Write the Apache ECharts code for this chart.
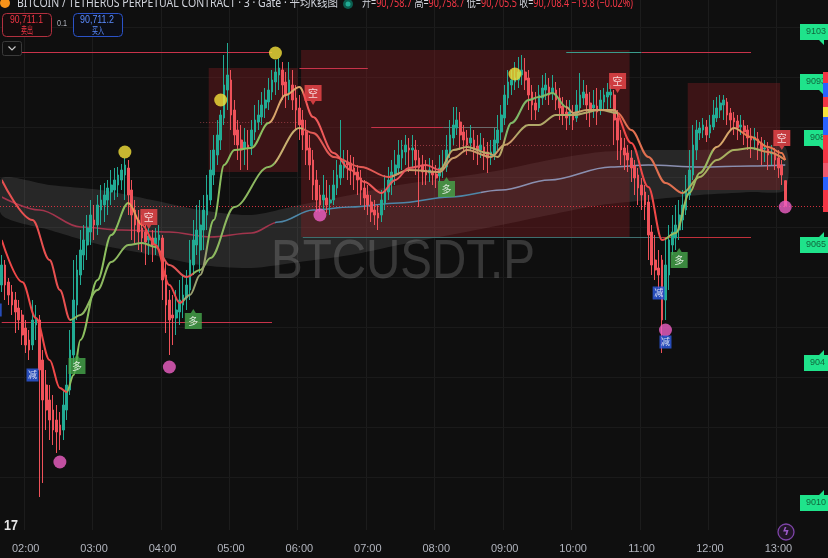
<!DOCTYPE html>
<html>
<head>
<meta charset="utf-8">
<title>BTCUSDT.P</title>
<script src="https://cdn.jsdelivr.net/npm/echarts@6.0.0/dist/echarts.min.js"></script>
<style>
html,body{margin:0;padding:0;background:#0f0f0f;overflow:hidden;}
#chart{width:828px;height:558px;}
</style>
</head>
<body>
<div id="chart"></div>
<script>
// ================= DATA =================
const hourTicks = ['02:00','03:00','04:00','05:00','06:00','07:00','08:00','09:00','10:00','11:00','12:00','13:00'];

const opens = [
90550,90590,90556,90536,90520,90504,90490,90464,90440,90430,
90470,90480,90400,90350,90320,90300,90280,90270,90260,90300,
90340,90410,90510,90570,90610,90630,90656,90680,90670,90700,
90710,90720,90736,90740,90750,90760,90770,90784,90740,90700,
90680,90664,90656,90640,90644,90632,90640,90644,90570,90520,
90490,90484,90496,90510,90524,90540,90590,90630,90620,90660,
90690,90720,90770,90810,90840,90884,90940,90960,90900,90860,
90840,90824,90830,90828,90856,90876,90886,90904,90916,90936,
90956,90970,90980,90956,90936,90950,90924,90904,90880,90856,
90824,90800,90760,90730,90720,90724,90714,90720,90744,90764,
90784,90796,90794,90784,90776,90764,90744,90730,90716,90700,
90694,90690,90714,90736,90754,90770,90784,90804,90816,90824,
90820,90820,90804,90790,90780,90774,90776,90772,90768,90780,
90786,90816,90844,90864,90876,90856,90844,90834,90840,90828,
90820,90826,90816,90806,90810,90834,90856,90884,90924,90950,
90956,90960,90970,90976,90964,90936,90914,90904,90924,90940,
90946,90934,90940,90924,90908,90896,90888,90892,90884,90904,
90924,90932,90914,90904,90908,90900,90916,90926,90930,90930,
90884,90844,90824,90814,90804,90788,90770,90750,90736,90716,
90656,90600,90584,90600,90520,90570,90630,90644,90660,90680,
90700,90730,90770,90820,90854,90860,90866,90854,90866,90884,
90900,90910,90916,90894,90884,90878,90866,90868,90860,90848,
90840,90842,90834,90822,90822,90812,90814,90804,90790,90758.7];

const closes = [
90590,90550,90530,90510,90496,90480,90450,90430,90420,90480,
90484,90380,90320,90300,90280,90260,90256,90250,90310,90350,
90420,90520,90580,90620,90640,90664,90690,90670,90710,90720,
90730,90744,90750,90760,90770,90780,90790,90730,90690,90670,
90656,90644,90636,90648,90630,90644,90650,90560,90510,90480,
90484,90500,90520,90530,90550,90600,90640,90660,90670,90700,
90730,90780,90820,90850,90890,90950,90970,90890,90850,90830,
90820,90836,90824,90860,90880,90890,90910,90920,90940,90960,
90976,90984,90950,90930,90960,90920,90900,90870,90850,90820,
90790,90750,90720,90710,90730,90710,90720,90750,90770,90790,
90800,90790,90780,90770,90760,90740,90724,90710,90696,90690,
90684,90720,90740,90760,90776,90790,90810,90820,90830,90820,
90824,90800,90784,90776,90770,90780,90770,90764,90784,90790,
90820,90850,90870,90880,90850,90840,90830,90844,90824,90820,
90830,90810,90804,90816,90840,90860,90890,90930,90956,90960,
90964,90976,90980,90960,90930,90910,90900,90930,90944,90950,
90930,90944,90920,90904,90890,90884,90896,90880,90910,90930,
90936,90910,90900,90910,90896,90920,90930,90936,90936,90880,
90840,90820,90810,90800,90784,90764,90744,90730,90710,90650,
90590,90580,90570,90480,90590,90640,90656,90670,90690,90710,
90740,90780,90830,90860,90864,90870,90850,90870,90890,90904,
90914,90920,90890,90880,90876,90864,90870,90856,90844,90840,
90846,90830,90820,90824,90810,90816,90800,90784,90770,90708.4];

const lows = [
90536,90520,90510,90490,90454,90460,90430,90414,90400,90420,
90440,90126,90154,90260,90240,90230,90214,90220,90240,90280,
90330,90390,90480,90550,90580,90600,90630,90640,90650,90670,
90676,90690,90710,90720,90726,90740,90720,90690,90640,90630,
90620,90616,90590,90610,90596,90610,90620,90520,90454,90410,
90430,90450,90470,90484,90500,90520,90570,90610,90574,90620,
90660,90710,90750,90790,90820,90870,90900,90860,90830,90800,
90780,90790,90780,90810,90840,90860,90870,90884,90900,90920,
90930,90940,90920,90904,90920,90900,90860,90840,90820,90790,
90760,90720,90696,90696,90700,90694,90690,90710,90730,90750,
90764,90760,90750,90740,90730,90710,90700,90690,90676,90670,
90660,90676,90700,90720,90730,90750,90770,90780,90790,90776,
90784,90770,90706,90750,90750,90756,90750,90744,90756,90764,
90776,90804,90830,90850,90820,90816,90810,90820,90800,90790,
90804,90780,90774,90790,90800,90820,90840,90870,90910,90930,
90940,90944,90950,90940,90900,90880,90880,90896,90910,90920,
90910,90920,90900,90880,90870,90860,90870,90860,90876,90896,
90910,90880,90866,90884,90870,90890,90900,90900,90904,90830,
90800,90790,90780,90776,90756,90730,90710,90700,90680,90600,
90570,90560,90540,90414,90480,90540,90610,90620,90640,90660,
90690,90720,90760,90800,90840,90844,90836,90844,90860,90876,
90884,90880,90870,90860,90850,90840,90850,90830,90820,90804,
90820,90800,90790,90796,90780,90790,90780,90764,90750,90705.5];

const highs = [
90610,90600,90564,90550,90536,90520,90500,90480,90460,90520,
90510,90490,90420,90380,90350,90330,90310,90296,90340,90390,
90460,90600,90610,90660,90670,90690,90720,90710,90730,90750,
90754,90760,90780,90784,90786,90792,90804,90800,90760,90720,
90700,90690,90670,90664,90660,90664,90670,90650,90600,90540,
90530,90540,90560,90570,90580,90640,90680,90710,90720,90730,
90770,90820,90850,90880,90900,91010,91034,90980,90920,90880,
90870,90864,90860,90880,90910,90920,90936,90944,90964,90980,
91000,91004,90996,90976,90996,90980,90950,90930,90900,90880,
90850,90820,90780,90750,90770,90760,90750,90780,90800,90880,
90820,90820,90810,90806,90790,90780,90760,90750,90730,90720,
90710,90740,90770,90786,90800,90820,90840,90840,90850,90844,
90850,90840,90820,90810,90800,90804,90800,90790,90810,90820,
90850,90880,90906,90906,90896,90870,90860,90870,90860,90850,
90854,90844,90836,90840,90864,90890,90910,90950,90980,90980,
90996,91006,91010,91004,90980,90950,90936,90950,90970,90974,
90964,90970,90956,90944,90926,90920,90920,90910,90940,90974,
90960,90950,90936,90940,90944,90940,90944,90954,90950,90940,
90900,90860,90844,90830,90820,90800,90784,90764,90750,90730,
90670,90650,90620,90610,90640,90670,90690,90710,90720,90740,
90770,90820,90870,90880,90876,90884,90880,90890,90920,90926,
90930,90930,90924,90904,90896,90890,90890,90880,90870,90864,
90864,90856,90846,90840,90836,90830,90824,90820,90800,90758.7];

// moving-average curves as [candle index, price]
const fastLine = [[0,90640],[6,90556],[10,90484],[14,90400],[17,90344],[19,90336],[21,90370],[23,90440],[28,90560],[32,90650],[37,90714],[41,90670],[45,90630],[49,90550],[52,90514],[55,90530],[58,90570],[62,90680],[65,90790],[68,90820],[73,90824],[78,90874],[83,90930],[87,90946],[91,90886],[97,90814],[102,90780],[106,90756],[111,90734],[115,90760],[119,90784],[124,90790],[128,90780],[132,90820],[136,90826],[142,90814],[145,90806],[149,90874],[154,90920],[157,90926],[161,90934],[165,90906],[167,90894],[171,90900],[175,90900],[179,90900],[184,90834],[189,90746],[193,90640],[197,90654],[201,90734],[204,90774],[209,90826],[214,90864],[219,90846],[224,90826],[228,90814],[229,90800]];
const slowLine = [[0,90760],[9,90680],[14,90600],[17,90540],[20,90480],[23,90490],[28,90540],[32,90596],[37,90630],[41,90634],[45,90626],[49,90590],[54,90566],[58,90580],[61,90604],[68,90706],[78,90786],[87,90864],[91,90854],[97,90806],[105,90786],[113,90766],[119,90780],[128,90776],[132,90804],[136,90820],[143,90806],[147,90830],[154,90870],[157,90870],[162,90890],[167,90890],[175,90900],[180,90894],[184,90860],[189,90806],[194,90754],[199,90734],[204,90766],[209,90800],[214,90820],[219,90824],[224,90816],[229,90800]];
const longLine = [[0,90726],[11,90700],[23,90666],[35,90660],[49,90656],[61,90646],[73,90654],[81,90676],[91,90700],[102,90706],[116,90714],[131,90726],[146,90740],[160,90760],[178,90786],[189,90790],[204,90786],[219,90788],[229,90790]];
const bandUpper = [[0,90764],[14,90750],[29,90740],[44,90720],[58,90700],[73,90690],[87,90710],[102,90730],[116,90750],[131,90764],[146,90780],[160,90800],[175,90816],[189,90820],[204,90820],[219,90824],[229,90826]];
const bandLower = [[0,90690],[14,90660],[29,90630],[44,90610],[58,90590],[73,90584],[87,90596],[102,90610],[116,90630],[131,90650],[146,90670],[160,90690],[175,90710],[189,90720],[204,90730],[219,90736],[229,90740]];

// zones [fromIndex, topPrice, toIndex, bottomPrice]
const zones = [[61,90984,86,90776],[88,91020,183,90646],[201,90954,227,90740]];
// level lines [fromIndex, toIndex, price]
const levels = [[5,79,91016],[165,187,91016],[187,219,91016],[87,107,90984],[108,129,90866],[129,145,90866],[0,79,90476],[88,193,90646],[193,219,90646]];
const dottedLevels = [[58,87,90876],[117,178,90830]];
const lastPrice = 90708.4;

// signals [candle index, price]
const peakDots = [[36,90816],[64,90920],[80,91014],[150,90972]];
const troughDots = [[17,90196],[49,90386],[93,90690],[194,90460],[229,90706]];
const shortTags = [[43,90682],[91,90930],[180,90954],[228,90840]];
const longTags = [[22,90392],[56,90482],[130,90746],[198,90604]];
const reduceTags = [[0,90500],[9,90370],[192,90534],[194,90436]];

// right-edge price tags
const tagPrices = [91056,90956,90844,90630,90394,90114];
const tagTexts = ['9103','9093','908','9065','904','9010'];
// right-edge indicator strip [topPrice, bottomPrice]
const stripSegments = [[90976,90954],[90954,90926],[90926,90906],[90906,90886],[90886,90850],[90850,90794],[90794,90766],[90766,90740],[90740,90696]];

const gridPrices = [91066,90966,90866,90766,90666,90566,90466,90366,90266,90166];

// ================= STYLE / LAYOUT =================
const N_CAT = 242;
const categories = [];
for (let k = 0; k < N_CAT; k++) {
  const m = 99 + 3 * k; // 01:39 in 3-minute steps
  categories.push(String(Math.floor(m / 60)).padStart(2, '0') + ':' + String(m % 60).padStart(2, '0'));
}
const candles = opens.map((o, i) => [o, closes[i], lows[i], highs[i]]);

const RED = '#f0525a', GREEN = '#22ab94';
const levelColors = ['#c8334a','#3a9c8c','#c8334a','#c8334a','#c8334a','#6a6a6a','#c8334a','#3e6e6e','#c0303a'];
const tagLeft = [800,800,804,800,804,800];
const tagNotchDown = [true,true,true,false,false,false];
const stripColors = ['#f23645','#2962ff','#f23645','#f5e23c','#2962ff','#f23645','#ef5a6f','#2962ff','#f23645'];

const fastPieces = [[0,19,'#f04848'],[19,37,'#8cbf5f'],[37,41,'#e59a5b'],[41,53,'#f04848'],[53,60,'#9aa070'],[60,78,'#8cbf5f'],[78,88,'#d9a56b'],[88,112,'#f05a5a'],[112,128,'#e8585e'],[128,147,'#b8a868'],[147,165,'#7fb868'],[165,180,'#c9a06a'],[180,194,'#f04848'],[194,208,'#9ab85f'],[208,216,'#d6a66a'],[216,240,'#e8784e']];
const slowPieces = [[0,20,'#e85050'],[20,45,'#8db860'],[45,56,'#e05555'],[56,80,'#8db860'],[80,88,'#c8b070'],[88,114,'#e25a55'],[114,150,'#c89a68'],[150,180,'#b0a868'],[180,199,'#e07050'],[199,222,'#a8b060'],[222,240,'#d98a58']];
const longPieces = [[0,80,'#a2344c'],[80,140,'#4d87a8'],[140,240,'#8a8fb0']];
function vm(seriesIndex, pieces) {
  return { type: 'piecewise', show: false, seriesIndex: seriesIndex, dimension: 0,
    pieces: pieces.map(p => ({ gte: p[0], lt: p[1], color: p[2] })) };
}

const mctx = document.createElement('canvas').getContext('2d');
function fitScale(text, font, width) { mctx.font = font; const w = mctx.measureText(text).width; return w > 0 ? width / w : 1; }
function fitText(text, font, fill, x, y, width) {
  return { type: 'text', x: x, y: y, scaleX: fitScale(text, font, width), z: 100, silent: true,
    style: { text: text, font: font, fill: fill, align: 'left', verticalAlign: 'middle' } };
}
const CJK = '"Noto Sans CJK SC", "Noto Sans", sans-serif';
const LAT = '"Liberation Sans", Arial, sans-serif';

const titleText = 'BITCOIN / TETHERUS PERPETUAL CONTRACT · 3 · Gate · 平均K线图';
const titleFont = '12px "Noto Sans", "Noto Sans CJK SC", sans-serif';
const ohlcPlain = '开=90,758.7 高=90,758.7 低=90,705.5 收=90,708.4 −19.8 (−0.02%)';
const ohlcRich = '{l|开=}{v|90,758.7} {l|高=}{v|90,758.7} {l|低=}{v|90,705.5} {l|收=}{v|90,708.4} {v|−19.8 (−0.02%)}';
const wmFont = '56px "Liberation Sans", Arial, sans-serif';

function lineAt(api, i1, i2, price) {
  const a = api.coord([i1, price]), b = api.coord([i2, price]);
  return [a[0], Math.round(a[1]) + 0.5, b[0]];
}

const option = {
  backgroundColor: '#0f0f0f',
  animation: false,
  grid: { left: 0, right: 0, top: 0, height: 530 },
  xAxis: {
    type: 'category', data: categories, boundaryGap: true,
    axisLine: { show: false }, axisTick: { show: false },
    axisLabel: { interval: (i, v) => hourTicks.includes(v), color: '#b2b5be', fontSize: 11, fontFamily: LAT, margin: 13 },
    splitLine: { show: true, interval: (i, v) => hourTicks.includes(v), lineStyle: { color: '#1c1c1c', width: 1 } }
  },
  yAxis: { type: 'value', min: 90060, max: 91120, show: false },
  visualMap: [vm(4, longPieces), vm(5, slowPieces), vm(6, fastPieces)],
  graphic: [
    { type: 'text', x: 271, y: 263, z: 1, silent: true, scaleX: fitScale('BTCUSDT.P', wmFont, 264),
      style: { text: 'BTCUSDT.P', font: wmFont, fill: 'rgba(255,255,255,0.17)', align: 'left', verticalAlign: 'middle' } },
    { type: 'circle', z: 100, silent: true, shape: { cx: 5, cy: 3, r: 5 }, style: { fill: '#f7931a' } },
    fitText(titleText, titleFont, '#d1d4dc', 17, 4, 321),
    { type: 'circle', z: 100, silent: true, shape: { cx: 348, cy: 4, r: 5 }, style: { fill: '#0b5e4f' } },
    { type: 'circle', z: 101, silent: true, shape: { cx: 348, cy: 4, r: 2.5 }, style: { fill: '#22ab94' } },
    { type: 'text', x: 362, y: 4, z: 100, silent: true, scaleX: fitScale(ohlcPlain, titleFont, 271),
      style: { text: ohlcRich, font: titleFont, align: 'left', verticalAlign: 'middle',
        rich: { l: { fill: '#d1d4dc', font: titleFont }, v: { fill: '#f23645', font: titleFont } } } },
    { type: 'rect', z: 100, silent: true, shape: { x: 2.5, y: 13.5, width: 49, height: 23, r: 4 }, style: { fill: '#140c0d', stroke: '#b3303f', lineWidth: 1 } },
    fitText('90,711.1', '11px ' + LAT, '#f23645', 10, 20, 33),
    fitText('卖出', '10px ' + CJK, '#f23645', 21, 30, 12),
    fitText('0.1', '9px ' + LAT, '#b2b5be', 57, 24, 10),
    { type: 'rect', z: 100, silent: true, shape: { x: 73.5, y: 13.5, width: 49, height: 23, r: 4 }, style: { fill: '#0c0e16', stroke: '#2b53c9', lineWidth: 1 } },
    fitText('90,711.2', '11px ' + LAT, '#5b8cff', 80, 20, 34),
    fitText('买入', '10px ' + CJK, '#5b8cff', 92, 30, 12),
    { type: 'rect', z: 100, silent: true, shape: { x: 2.5, y: 41.5, width: 19, height: 14, r: 2 }, style: { fill: '#0f0f0f', stroke: '#3a3a3a', lineWidth: 1 } },
    { type: 'polyline', z: 101, silent: true, shape: { points: [[8.5, 46.5], [12, 50], [15.5, 46.5]] }, style: { stroke: '#c8c8c8', lineWidth: 1.2, fill: null } },
    fitText('17', 'bold 15px ' + LAT, '#e6e6e6', 4, 526, 14),
    { type: 'circle', z: 100, silent: true, shape: { cx: 786, cy: 532, r: 8 }, style: { fill: 'rgba(140,70,180,0.15)', stroke: '#7e44a8', lineWidth: 1.3 } },
    { type: 'text', x: 786, y: 532, z: 101, silent: true, style: { text: 'ϟ', font: 'bold 11px "DejaVu Sans", sans-serif', fill: '#9b59c7', align: 'center', verticalAlign: 'middle' } }
  ],
  series: [
    { // 0 grid lines
      type: 'custom', z: 0, silent: true, data: gridPrices.map(p => [0, p]),
      renderItem: (params, api) => {
        const cs = params.coordSys; const y = Math.round(api.coord([0, gridPrices[params.dataIndex]])[1]) + 0.5;
        return { type: 'line', shape: { x1: cs.x, y1: y, x2: cs.x + cs.width, y2: y }, style: { stroke: '#1a1a1a', lineWidth: 1 } };
      }
    },
    { // 1 gray band
      type: 'custom', z: 1, silent: true, data: [[0, bandUpper[0][1]]],
      renderItem: (params, api) => {
        const pts = bandUpper.map(p => api.coord(p)).concat(bandLower.slice().reverse().map(p => api.coord(p)));
        return { type: 'polygon', shape: { points: pts, smooth: 0.25 }, style: { fill: 'rgba(200,200,200,0.13)' } };
      }
    },
    { // 2 zones
      type: 'custom', z: 1, silent: true, data: zones, encode: { x: [0, 2], y: [1, 3] },
      renderItem: (params, api) => {
        const z = zones[params.dataIndex]; const half = api.size([1, 0])[0] / 2;
        const a = api.coord([z[0], z[1]]), b = api.coord([z[2], z[3]]);
        return { type: 'rect', shape: { x: a[0] - half, y: a[1], width: b[0] - a[0] + 2 * half, height: b[1] - a[1] }, style: { fill: 'rgba(139,30,35,0.37)' } };
      }
    },
    { // 3 level lines
      type: 'custom', z: 2, silent: true, data: levels, encode: { x: [0, 1], y: 2 },
      renderItem: (params, api) => {
        const s = levels[params.dataIndex]; const l = lineAt(api, s[0], s[1], s[2]);
        return { type: 'line', shape: { x1: l[0], y1: l[1], x2: l[2], y2: l[1] }, style: { stroke: levelColors[params.dataIndex], lineWidth: 1 } };
      }
    },
    { // 4 long MA
      type: 'line', z: 4, data: longLine, smooth: 0.35, smoothMonotone: 'x', showSymbol: false, silent: true, lineStyle: { width: 1.5 }
    },
    { // 5 slow MA
      type: 'line', z: 6, data: slowLine, smooth: 0.35, smoothMonotone: 'x', showSymbol: false, silent: true, lineStyle: { width: 2 }
    },
    { // 6 fast MA
      type: 'line', z: 6, data: fastLine, smooth: 0.35, smoothMonotone: 'x', showSymbol: false, silent: true, lineStyle: { width: 2 }
    },
    { // 7 candles
      type: 'candlestick', z: 5, data: candles, barWidth: 2.2, silent: true,
      itemStyle: { color: GREEN, color0: RED, borderColor: GREEN, borderColor0: RED, borderWidth: 1 }
    },
    { // 8 last price + dotted levels
      type: 'custom', z: 3, silent: true, data: [[0, lastPrice]].concat(dottedLevels.map(d => [d[0], d[2]])),
      renderItem: (params, api) => {
        const cs = params.coordSys; const k = params.dataIndex;
        if (k === 0) {
          const y = Math.round(api.coord([0, lastPrice])[1]) + 0.5;
          return { type: 'line', shape: { x1: cs.x, y1: y, x2: cs.x + cs.width, y2: y }, style: { stroke: 'rgba(242,54,69,0.85)', lineWidth: 1, lineDash: [1, 2] } };
        }
        const d = dottedLevels[k - 1]; const l = lineAt(api, d[0], d[1], d[2]);
        return { type: 'line', shape: { x1: l[0], y1: l[1], x2: l[2], y2: l[1] }, style: { stroke: 'rgba(200,80,90,0.6)', lineWidth: 1, lineDash: [1, 2] } };
      }
    },
    { // 9 peak dots
      type: 'scatter', z: 8, silent: true, data: peakDots, symbol: 'circle', symbolSize: 13, itemStyle: { color: '#f4e13a' }
    },
    { // 10 trough dots
      type: 'scatter', z: 8, silent: true, data: troughDots, symbol: 'circle', symbolSize: 13, itemStyle: { color: '#ee5fc4' }
    },
    { // 11 short tags
      type: 'scatter', z: 9, silent: true, data: shortTags, symbol: 'path://M0,0H17V16H11L8.5,20L6,16H0Z', symbolSize: [17, 20],
      itemStyle: { color: '#f2474b' },
      label: { show: true, position: 'inside', formatter: '空', color: '#ffffff', fontSize: 10, fontFamily: CJK, offset: [0, -2] }
    },
    { // 12 long tags
      type: 'scatter', z: 9, silent: true, data: longTags, symbol: 'path://M0,4H6L8.5,0L11,4H17V20H0Z', symbolSize: [17, 20],
      itemStyle: { color: '#46a84b' },
      label: { show: true, position: 'inside', formatter: '多', color: '#ffffff', fontSize: 10, fontFamily: CJK, offset: [0, 2] }
    },
    { // 13 reduce tags
      type: 'scatter', z: 9, silent: true,
      data: reduceTags.map((p, k) => k === 0 ? { value: p, symbolOffset: [-6, 0] } : p),
      symbol: 'rect', symbolSize: [12, 13], itemStyle: { color: '#2d5be3' },
      label: { show: true, position: 'inside', formatter: '减', color: '#ffffff', fontSize: 9, fontFamily: CJK }
    },
    { // 14 right price tags
      type: 'custom', z: 10, silent: true, data: tagPrices.map(p => [241, p]),
      renderItem: (params, api) => {
        const k = params.dataIndex; const y = Math.round(api.coord([0, tagPrices[k]])[1]);
        const xl = tagLeft[k], xr = 832, t = y - 8, b = y + 8;
        const pts = tagNotchDown[k]
          ? [[xl, t], [xr, t], [xr, b], [824, b], [824, b + 5], [819, b], [xl, b]]
          : [[xl, t], [819, t], [824, t - 5], [824, t], [xr, t], [xr, b], [xl, b]];
        return { type: 'group', children: [
          { type: 'polygon', shape: { points: pts }, style: { fill: '#1fe38b' } },
          { type: 'text', style: { text: tagTexts[k], x: xl + 6, y: y, fill: '#12663e', font: '9px ' + LAT, verticalAlign: 'middle', align: 'left' } }
        ] };
      }
    },
    { // 15 right indicator strip
      type: 'custom', z: 11, silent: true, data: stripSegments.map(s => [241, s[0], s[1]]), encode: { x: 0, y: [1, 2] },
      renderItem: (params, api) => {
        const s = stripSegments[params.dataIndex];
        const y1 = api.coord([0, s[0]])[1], y2 = api.coord([0, s[1]])[1];
        return { type: 'rect', shape: { x: 823, y: y1, width: 6, height: y2 - y1 }, style: { fill: stripColors[params.dataIndex] } };
      }
    }
  ]
};

const chart = echarts.init(document.getElementById('chart'), null, { renderer: 'canvas' });
chart.setOption(option);
</script>
</body>
</html>
